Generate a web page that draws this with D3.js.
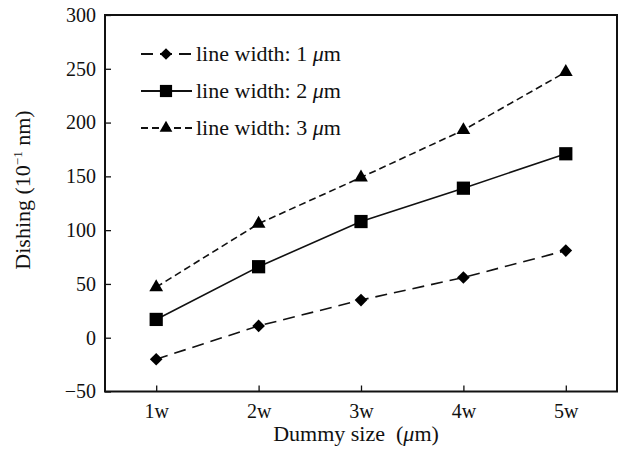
<!DOCTYPE html>
<html><head><meta charset="utf-8">
<script src="https://cdn.jsdelivr.net/npm/d3@7"></script>
<style>
html,body{margin:0;padding:0;background:#fff;}
svg{display:block;font-family:"Liberation Serif","Times New Roman",serif;}
</style></head>
<body>
<svg id="chart" width="621" height="451"></svg>
<script>
const categories = ["1w","2w","3w","4w","5w"];
const yTicks = [-50,0,50,100,150,200,250,300];
const s1 = [-20, 11, 35, 56, 81];
const s2 = [17, 66, 108, 139, 171];
const s3 = [47, 106, 149, 193, 247];
const seriesNames = ["line width: 1 ", "line width: 2 ", "line width: 3 "];

const svg = d3.select("#chart");
const L=105, R=617, T=15, B=391.5;
const x = d3.scalePoint().domain(categories).range([L,R]).padding(0.5);
const y = d3.scaleLinear().domain([-50,300]).range([B,T]);
const FS = 20, FT = 22;

// axes
const xAxis = svg.append("g").attr("transform",`translate(0,${B})`)
  .call(d3.axisBottom(x).tickSizeInner(-6).tickSizeOuter(0).tickPadding(12));
const yAxis = svg.append("g").attr("transform",`translate(${L},0)`)
  .call(d3.axisLeft(y).tickValues(yTicks).tickSizeInner(-6).tickSizeOuter(0).tickPadding(9)
    .tickFormat(d => d<0 ? "\u2212"+Math.abs(d) : d));
[xAxis,yAxis].forEach(g=>{
  g.select(".domain").remove();
  g.selectAll(".tick line").attr("stroke","#111").attr("stroke-width",1.3);
  g.selectAll("text").attr("font-size",FS).attr("fill","#111")
   .attr("font-family",'"Liberation Serif","Times New Roman",serif');
});
// frame
svg.append("rect").attr("x",L).attr("y",T).attr("width",R-L).attr("height",B-T)
  .attr("fill","none").attr("stroke","#111").attr("stroke-width",2);

// axis titles
const xt = svg.append("text").attr("x",356).attr("y",441).attr("text-anchor","middle")
  .attr("font-size",FT).attr("fill","#111");
xt.append("tspan").text("Dummy size\u00a0\u00a0(");
xt.append("tspan").attr("font-style","italic").text("\u03bc");
xt.append("tspan").text("m)");

const yt = svg.append("text").attr("transform",`translate(30,190) rotate(-90)`)
  .attr("text-anchor","middle").attr("font-size",FT).attr("fill","#111");
yt.append("tspan").text("Dishing (10");
yt.append("tspan").attr("font-size",13).attr("dy",-8).text("\u22121");
yt.append("tspan").attr("dy",8).text(" nm)");

// series
const series = [
  {v:s1, dash:"12,7", shape:d3.symbolSquare, size:80, rot:45},
  {v:s2, dash:null, shape:d3.symbolSquare, size:175, rot:0},
  {v:s3, dash:"7,4", shape:d3.symbolTriangle, size:82, rot:0}
];
const line = d3.line().x((d,i)=>x(categories[i])).y(d=>y(d));
series.forEach(s=>{
  svg.append("path").datum(s.v).attr("d",line).attr("fill","none")
    .attr("stroke","#111").attr("stroke-width",1.6)
    .attr("stroke-dasharray",s.dash);
  svg.selectAll(null).data(s.v).enter().append("path")
    .attr("d",d3.symbol().type(s.shape).size(s.size))
    .attr("transform",(d,i)=>`translate(${x(categories[i])},${y(d)}) rotate(${s.rot})`)
    .attr("fill","#000");
});

// legend
const legY = [54, 91, 128];
series.forEach((s,i)=>{
  const g = svg.append("g").attr("transform",`translate(0,${legY[i]})`);
  g.append("line").attr("x1",141).attr("x2",192).attr("y1",0).attr("y2",0)
    .attr("stroke","#111").attr("stroke-width",1.8).attr("stroke-dasharray",s.dash);
  g.append("path").attr("d",d3.symbol().type(s.shape).size(s.size*0.85))
    .attr("transform",`translate(166,0) rotate(${s.rot})`).attr("fill","#000");
  const t = g.append("text").attr("x",196).attr("y",7).attr("font-size",FT).attr("fill","#111");
  t.append("tspan").text(seriesNames[i]);
  t.append("tspan").attr("font-style","italic").text("\u03bc");
  t.append("tspan").text("m");
});
</script>
</body></html>
